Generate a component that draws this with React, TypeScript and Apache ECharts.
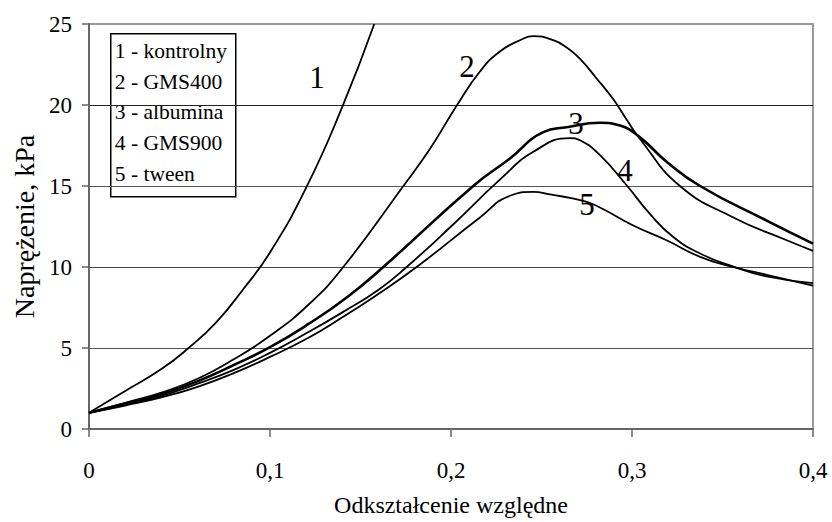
import React, { useEffect, useRef } from "react";
import * as echarts from "echarts";

// Odkształcenie względne (x) and Naprężenie, kPa (y) for each sample
const x1 = [0, 0.02, 0.04, 0.055, 0.07, 0.085, 0.1, 0.12, 0.14, 0.1576];
const y1 = [1.0, 2.35, 3.7, 5.0, 6.55, 8.6, 10.9, 14.9, 19.9, 25.0];

const x2 = [0, 0.02, 0.04, 0.06, 0.08, 0.1, 0.1215, 0.1405, 0.1737, 0.1884, 0.2031, 0.216, 0.227, 0.2381, 0.2455, 0.2565, 0.2639, 0.2713, 0.28, 0.2897, 0.297, 0.3044, 0.3265, 0.356, 0.3855, 0.4];
const y2 = [1.0, 1.62, 2.25, 3.1, 4.3, 5.75, 7.7, 10.0, 15.0, 17.3, 19.95, 22.07, 23.3, 24.0, 24.25, 24.0, 23.55, 22.85, 21.7, 20.35, 19.1, 17.9, 15.0, 13.06, 11.65, 11.0];

const x3 = [0, 0.02, 0.04, 0.06, 0.08, 0.1, 0.1215, 0.1433, 0.1626, 0.2123, 0.2326, 0.251, 0.2639, 0.2823, 0.2934, 0.3044, 0.3191, 0.3376, 0.3744, 0.4];
const y3 = [1.0, 1.57, 2.15, 2.95, 3.95, 5.05, 6.5, 8.2, 10.0, 15.0, 16.7, 18.33, 18.63, 18.9, 18.73, 18.0, 16.5, 15.0, 12.86, 11.44];

const x4 = [0, 0.02, 0.04, 0.06, 0.08, 0.1, 0.1215, 0.14, 0.16, 0.1755, 0.2, 0.227, 0.2455, 0.2657, 0.2713, 0.2823, 0.2967, 0.31, 0.3228, 0.3376, 0.356, 0.3744, 0.4];
const y4 = [1.0, 1.5, 2.05, 2.8, 3.65, 4.7, 6.0, 7.2, 8.6, 10.0, 12.5, 15.39, 17.11, 17.96, 17.82, 16.9, 15.09, 13.26, 11.85, 10.83, 10.02, 9.42, 9.0];

const x5 = [0, 0.02, 0.04, 0.06, 0.08, 0.1, 0.1215, 0.14, 0.158, 0.181, 0.216, 0.2326, 0.2455, 0.2547, 0.2731, 0.2823, 0.3007, 0.3191, 0.3376, 0.356, 0.3744, 0.4];
const y5 = [1.0, 1.45, 1.95, 2.6, 3.45, 4.45, 5.65, 6.9, 8.2, 10.0, 13.06, 14.4, 14.64, 14.48, 14.08, 13.67, 12.56, 11.65, 10.63, 10.0, 9.52, 8.85];

const seriesNames = ["1 - kontrolny", "2 - GMS400", "3 - albumina", "4 - GMS900", "5 - tween"];
const curveLabels = ["1", "2", "3", "4", "5"];
const labelX = [0.126, 0.2088, 0.269, 0.2961, 0.2751];
const labelY = [21.7, 22.36, 18.83, 15.98, 13.85];

const xTitle = "Odkształcenie względne";
const yTitle = "Naprężenie, kPa";

const FONT = "'Liberation Serif', 'Times New Roman', serif";

const pairs = (xs: number[], ys: number[]) => xs.map((x, i) => [x, ys[i]]);

export default function App() {
  const ref = useRef<HTMLDivElement>(null);
  useEffect(() => {
    if (!ref.current) return;
    const chart = echarts.init(ref.current, null, { renderer: "svg" });
    const curves = [pairs(x1, y1), pairs(x2, y2), pairs(x3, y3), pairs(x4, y4), pairs(x5, y5)];
    const widths = [1.8, 1.8, 2.6, 1.8, 1.8];
    const legendStep = 30.8;
    chart.setOption({
      animation: false,
      backgroundColor: "#ffffff",
      textStyle: { fontFamily: FONT },
      grid: {
        left: 89,
        right: 19,
        top: 24,
        bottom: 87,
        show: true,
        borderColor: "#999",
        borderWidth: 2,
      },
      xAxis: {
        type: "value",
        min: 0,
        max: 0.4,
        interval: 0.1,
        name: xTitle,
        nameLocation: "middle",
        nameGap: 64,
        nameTextStyle: { fontFamily: FONT, fontSize: 24, color: "#000" },
        axisLine: { show: true, lineStyle: { color: "#666", width: 2 } },
        axisTick: { show: true, length: 8, lineStyle: { color: "#666", width: 1.5 } },
        axisLabel: {
          fontFamily: FONT,
          fontSize: 23,
          color: "#000",
          margin: 30,
          formatter: (v: number) => (v === 0 ? "0" : v.toFixed(1).replace(".", ",")),
        },
        splitLine: { show: false },
      },
      yAxis: {
        type: "value",
        min: 0,
        max: 25,
        interval: 5,
        name: yTitle,
        nameLocation: "middle",
        nameGap: 51,
        nameTextStyle: { fontFamily: FONT, fontSize: 28, color: "#000" },
        axisLine: { show: true, lineStyle: { color: "#666", width: 2 } },
        axisTick: { show: true, length: 7, lineStyle: { color: "#666", width: 1.5 } },
        axisLabel: { fontFamily: FONT, fontSize: 23, color: "#000", margin: 17 },
        splitLine: {
          show: true,
          lineStyle: { color: ["#666", "#555", "#444", "#555", "#222", "#999"], width: 1.2 },
        },
      },
      series: [
        ...curves.map((d, i) => ({
          type: "line",
          name: seriesNames[i],
          data: d,
          showSymbol: false,
          smooth: 0.5,
          lineStyle: { color: "#000", width: widths[i] },
          silent: true,
          z: 3,
        })),
        {
          type: "scatter",
          name: "labels",
          data: labelX.map((x, i) => [x, labelY[i], curveLabels[i]]),
          symbolSize: 0,
          silent: true,
          z: 4,
          itemStyle: { opacity: 1, color: "#000" },
          label: {
            show: true,
            position: "inside",
            formatter: (p: any) => p.value[2],
            fontFamily: FONT,
            fontSize: 31,
            color: "#000",
            opacity: 1,
          },
        },
      ],
      graphic: [
        {
          type: "group",
          left: 110,
          top: 33,
          children: [
            {
              type: "rect",
              shape: { x: 0, y: 0, width: 125, height: 163 },
              style: { fill: "#fff", stroke: "#000", lineWidth: 1.5 },
            },
            ...seriesNames.map((n, i) => ({
              type: "text",
              x: 4,
              y: 17 + i * legendStep,
              style: {
                text: n,
                fontFamily: FONT,
                fontSize: 21.5,
                fill: "#000",
                verticalAlign: "middle",
                textAlign: "left",
              },
            })),
          ],
        },
      ],
    });
    return () => chart.dispose();
  }, []);
  return (
    <div
      ref={ref}
      style={{ position: "fixed", left: 0, top: 0, width: 832, height: 522, background: "#fff" }}
    />
  );
}
